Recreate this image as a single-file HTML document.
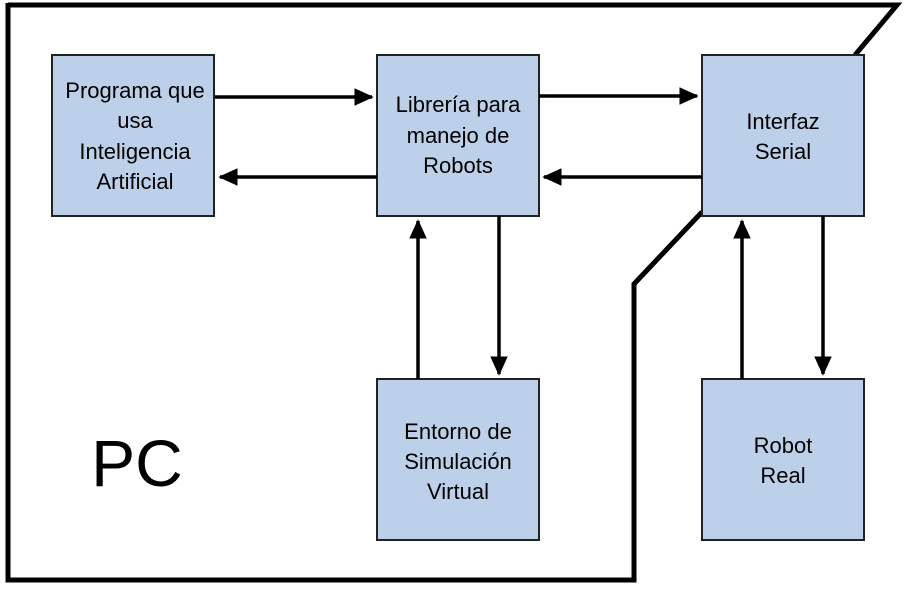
<!DOCTYPE html>
<html><head><meta charset="utf-8"><style>
body{margin:0;background:#fff;}
svg text{font-family:"Liberation Sans",sans-serif;font-size:22px;fill:#000;text-anchor:middle;}
</style></head><body>
<svg width="907" height="585" viewBox="0 0 907 585" xmlns="http://www.w3.org/2000/svg">
<defs>
<marker id="a" markerWidth="6" markerHeight="6" refX="5" refY="3" orient="auto" markerUnits="strokeWidth">
<path d="M0,0.5 L5.5,3 L0,5.5 z" fill="#000"/></marker>
</defs>
<polyline points="8,5 897,5 855,55" fill="none" stroke="#000" stroke-width="5"/>
<polyline points="702,212 634,284 634,580 8,580 8,3" fill="none" stroke="#000" stroke-width="5"/>
<g fill="#bdd0e9" stroke="#222" stroke-width="2">
<rect x="52" y="55" width="162" height="161"/>
<rect x="377" y="55" width="162" height="161"/>
<rect x="702" y="55" width="162" height="161"/>
<rect x="377" y="379" width="162" height="161"/>
<rect x="702" y="379" width="162" height="161"/>
</g>
<g stroke="#000" stroke-width="3.5" marker-end="url(#a)">
<line x1="215" y1="97" x2="372" y2="97"/>
<line x1="377" y1="177" x2="220" y2="177"/>
<line x1="539" y1="96" x2="697" y2="96"/>
<line x1="702" y1="177" x2="544" y2="177"/>
<line x1="418" y1="379" x2="418" y2="221"/>
<line x1="499" y1="216" x2="499" y2="374"/>
<line x1="742" y1="379" x2="742" y2="221"/>
<line x1="823" y1="216" x2="823" y2="374"/>
</g>
<text x="135" y="98">Programa que</text>
<text x="135" y="128">usa</text>
<text x="135" y="159">Inteligencia</text>
<text x="135" y="189">Artificial</text>
<text x="458" y="112">Librería para</text>
<text x="458" y="143">manejo de</text>
<text x="458" y="173">Robots</text>
<text x="783" y="129">Interfaz</text>
<text x="783" y="159">Serial</text>
<text x="458" y="439">Entorno de</text>
<text x="458" y="469">Simulación</text>
<text x="458" y="499">Virtual</text>
<text x="783" y="453">Robot</text>
<text x="783" y="483">Real</text>
<text x="137" y="486" style="font-size:66px">PC</text>
</svg>
</body></html>
